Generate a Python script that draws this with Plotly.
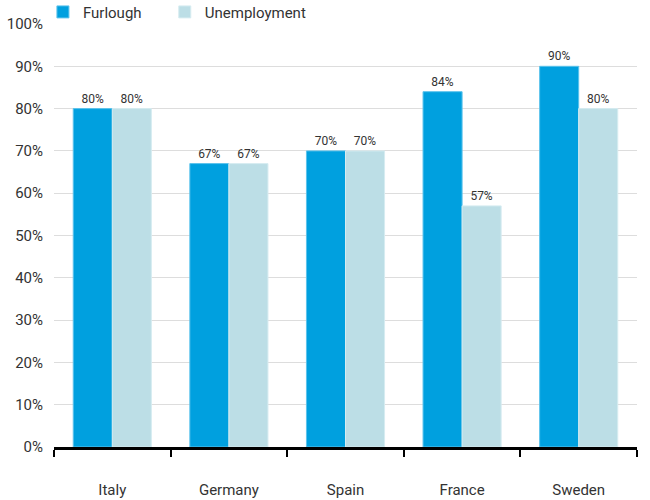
import plotly.graph_objects as go

countries = ["Italy", "Germany", "Spain", "France", "Sweden"]
furlough = [80, 67, 70, 84, 90]
unemployment = [80, 67, 70, 57, 80]
y_ticks = [0, 10, 20, 30, 40, 50, 60, 70, 80, 90, 100]

fig = go.Figure()
fig.add_trace(go.Bar(
    x=countries, y=furlough, name="Furlough", legend="legend",
    marker=dict(color="#00A0DF", line=dict(color="#5CC3EC", width=1)),
    text=[f"{v}%" for v in furlough], textposition="outside",
    textfont=dict(size=12, color="#333333"), cliponaxis=False,
))
fig.add_trace(go.Bar(
    x=countries, y=unemployment, name="Unemployment", legend="legend2",
    marker=dict(color="#BCDEE6", line=dict(color="#D6ECF1", width=1)),
    text=[f"{v}%" for v in unemployment], textposition="outside",
    textfont=dict(size=12, color="#333333"), cliponaxis=False,
))

legend_style = dict(orientation="h", y=1.028, xanchor="left", yanchor="middle",
                    font=dict(size=15), itemwidth=30, bgcolor="rgba(0,0,0,0)")

fig.update_layout(
    width=650, height=500,
    margin=dict(l=54, r=13, t=24, b=53, autoexpand=False),
    plot_bgcolor="white", paper_bgcolor="white",
    font=dict(family="Roboto", size=15, color="#333333"),
    bargap=0.33, bargroupgap=0,
    showlegend=True,
    legend=dict(x=-0.019, **legend_style),
    legend2=dict(x=0.19, **legend_style),
    xaxis=dict(showline=True, linecolor="black", linewidth=3,
               ticks="outside", tickson="boundaries", ticklen=7, tickwidth=2,
               tickcolor="black", ticklabelstandoff=27, showgrid=False,
               automargin=False),
    yaxis=dict(range=[0, 100], tickvals=y_ticks,
               ticktext=[f"{v}%" for v in y_ticks],
               showgrid=True, gridcolor="#DDDDDD", gridwidth=1,
               zeroline=False, showline=False, ticks="", automargin=False,
               ticklabelstandoff=10, tickfont=dict(size=15)),
)

# page body has a default margin, drop it so the figure sits at the corner
fig.write_html("out.html", config={"displayModeBar": False},
               post_script="document.body.style.margin='0';")
